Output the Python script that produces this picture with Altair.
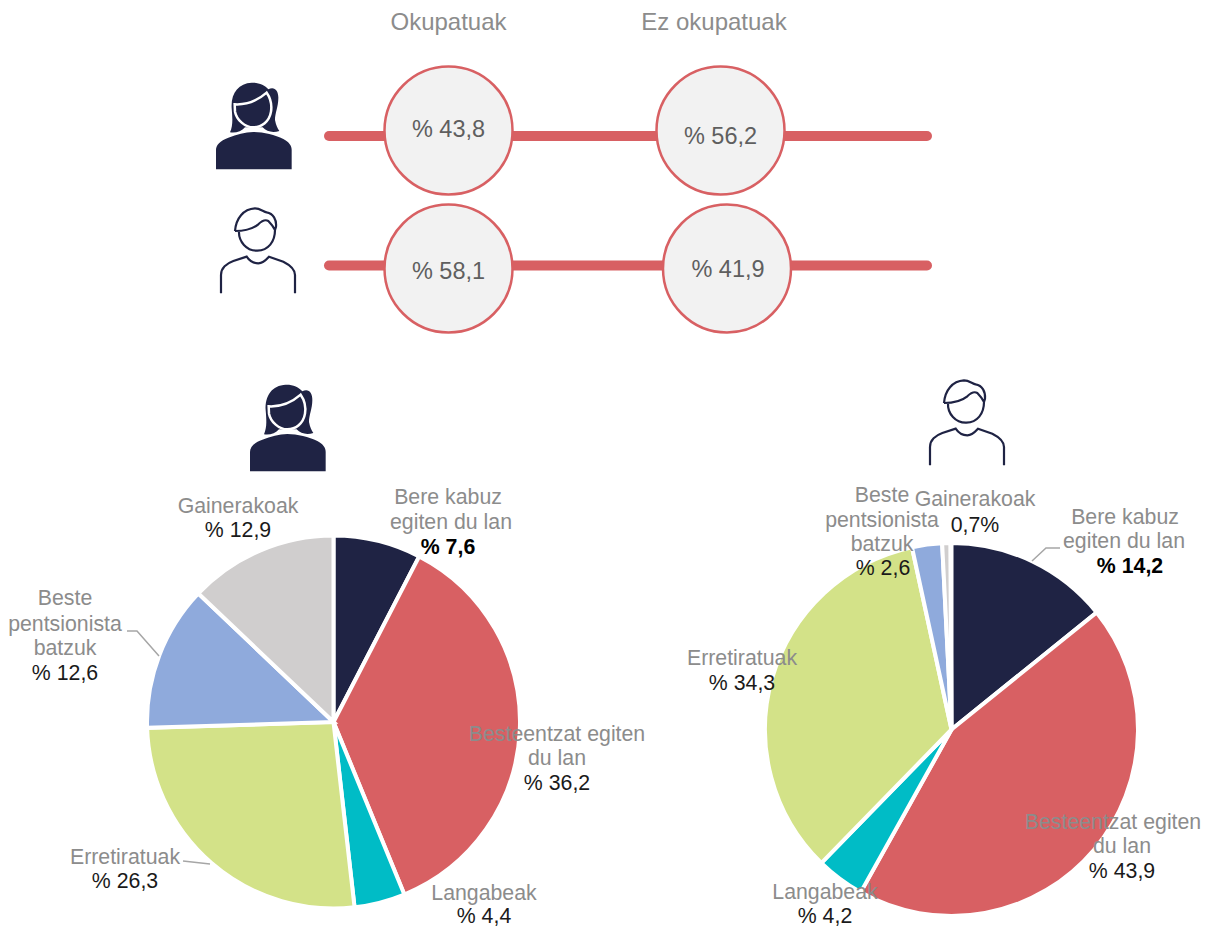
import re
import altair as alt
import pandas as pd

FONT = "Liberation Sans"
NAVY, RED, TEAL, GREEN, BLUE, GREY = "#1F2344", "#D86063", "#00BCC6", "#D3E288", "#8FAADC", "#D0CECE"

pie_names = ["Bere kabuz", "Besteentzat", "Langabeak", "Erretiratuak", "Beste", "Gainerakoak"]
pie_colors = [NAVY, RED, TEAL, GREEN, BLUE, GREY]
women_shares = [7.6, 36.2, 4.4, 26.3, 12.6, 12.9]
men_shares = [14.2, 43.9, 4.2, 34.3, 2.6, 0.7]

track_y = [136, 265.5]
track_x = [329, 927]
bubble_x = [448.5, 720.5, 448.5, 727]
bubble_y = [130.5, 130.5, 268.5, 268.5]
bubble_text = ["% 43,8", "% 56,2", "% 58,1", "% 41,9"]
bubble_text_x = [448.5, 720.5, 448.5, 728]
bubble_text_y = [130, 136.5, 271.5, 269.5]

header_text = ["Okupatuak", "Ez okupatuak"]
header_x = [448.5, 714]
header_y = [23, 23]

grey_text = ["Bere kabuz", "egiten du lan", "Gainerakoak", "Beste", "pentsionista", "batzuk",
             "Besteentzat egiten", "du lan", "Erretiratuak", "Langabeak",
             "Bere kabuz", "egiten du lan", "Gainerakoak", "Beste", "pentsionista", "batzuk",
             "Erretiratuak", "Besteentzat egiten", "du lan", "Langabeak"]
grey_x = [448, 451, 238, 65, 65, 65, 557, 557, 125, 484,
          1125, 1124, 975, 882, 882, 882, 742, 1113, 1122, 825]
grey_y = [498, 523, 507, 599, 625, 649, 735, 759, 858, 894,
          518, 542, 500, 496, 521, 545, 659, 823, 847, 893]

value_text = ["% 12,9", "% 12,6", "% 36,2", "% 26,3", "% 4,4", "0,7%", "% 2,6", "% 34,3", "% 43,9", "% 4,2"]
value_x = [238, 65, 557, 125, 484, 975, 883, 742, 1122, 825]
value_y = [531, 674, 784, 882, 917, 526, 569, 684, 872, 917]

bold_text = ["% 7,6", "% 14,2"]
bold_x = [448, 1130]
bold_y = [548, 567]

leader_id = [0, 0, 0, 1, 1, 2, 2, 2]
leader_x = [127, 137, 159, 183, 210, 1032, 1046, 1060]
leader_y = [631, 631, 656, 861, 864, 561, 548, 548]

woman_x = [255, 289]
woman_y = [125, 427]
man_x = [255, 964]
man_y = [250, 422]

WOMAN_BODY = "M48,298 L48,240 C48,225 60,212 85,203 C110,193 135,187 160,186 C190,186 225,195 250,207 C268,216 275,228 275,240 L275,298 Z"
WOMAN_HAIR = "M90,187 C100,165 97,140 95,115 C92,70 115,40 155,38 C175,37 195,45 205,58 C222,48 236,60 235,85 C235,110 225,130 225,150 C228,165 232,175 238,183 C222,188 200,187 188,172 L135,172 C125,185 105,190 90,187 Z"
WOMAN_FACE = "M104,103 C140,105 175,90 200,68 C212,85 216,105 213,125 C208,155 185,172 160,172 C135,172 110,150 105,125 Z"
MAN = ("M105,108 C108,70 130,42 165,40 C180,40 190,50 200,52 C220,55 230,75 228,95 L225,105 "
       "M105,108 C140,108 160,100 175,88 C185,78 195,72 205,78 C215,88 220,95 225,105 "
       "M117,108 C115,140 140,168 172,167 C205,166 225,140 225,105 "
       "M63,295 L63,240 C63,220 80,205 100,198 L140,185 C150,200 165,205 175,205 C190,205 198,195 207,185 L250,200 C270,210 285,225 285,240 L285,295")


def unit(path):
    return re.sub(r"(-?\d+\.?\d*),(-?\d+\.?\d*)",
                  lambda m: f"{(float(m[1]) - 165) / 165:.4f},{(float(m[2]) - 165) / 165:.4f}", path)


X = alt.X("x:Q", axis=None, scale=alt.Scale(domain=[8, 1202], nice=False, zero=False))
Y = alt.Y("y:Q", axis=None, scale=alt.Scale(domain=[930, 8], nice=False, zero=False))
X2 = alt.X2("x2:Q")


def texts(labels, xs, ys, color, weight="normal", size=21.3):
    df = pd.DataFrame({"t": labels, "x": xs, "y": ys})
    return alt.Chart(df).mark_text(font=FONT, fontSize=size, color=color, fontWeight=weight,
                                   align="center", baseline="middle").encode(x=X, y=Y, text="t:N")


def pie(shares, cx, cy):
    df = pd.DataFrame({"name": pie_names, "share": shares, "idx": range(6)})
    return alt.Chart(df).mark_arc(outerRadius=186.5, stroke="white", strokeWidth=4).encode(
        theta=alt.Theta("share:Q", stack=True, scale=alt.Scale(domain=[0, 100])),
        color=alt.Color("name:N", legend=None, scale=alt.Scale(domain=pie_names, range=pie_colors)),
        order=alt.Order("idx:Q"),
        x=alt.value(cx - 8), y=alt.value(cy - 8))


def icon(xs, ys, path, **style):
    df = pd.DataFrame({"x": xs, "y": ys})
    return alt.Chart(df).mark_point(shape=unit(path), size=12100, opacity=1, **style).encode(x=X, y=Y)


tracks = alt.Chart(pd.DataFrame({"x": [track_x[0]] * 2, "x2": [track_x[1]] * 2, "y": track_y})).mark_rule(
    color=RED, strokeWidth=10, strokeCap="round").encode(x=X, x2=X2, y=Y)
bubbles = alt.Chart(pd.DataFrame({"x": bubble_x, "y": bubble_y})).mark_point(
    shape="circle", filled=True, fill="#F2F2F2", stroke=RED, strokeWidth=2.5, size=16384, opacity=1
).encode(x=X, y=Y)
leaders = alt.Chart(pd.DataFrame({"x": leader_x, "y": leader_y, "k": leader_id})).mark_line(
    color="#A6A6A6", strokeWidth=1.5).encode(x=X, y=Y, detail="k:N", order=alt.Order("x:Q"))

chart = alt.layer(
    tracks, bubbles,
    texts(bubble_text, bubble_text_x, bubble_text_y, "#5F5F5F", size=23.5),
    texts(header_text, header_x, header_y, "#8C8C8C", size=24),
    pie(women_shares, 333.5, 722), pie(men_shares, 951.5, 729.5),
    leaders,
    texts(grey_text, grey_x, grey_y, "#8C8C8C"),
    texts(value_text, value_x, value_y, "#1A1A1A"),
    texts(bold_text, bold_x, bold_y, "#000000", weight="bold"),
    icon(woman_x, woman_y, WOMAN_BODY, filled=True, fill=NAVY, strokeWidth=0),
    icon(woman_x, woman_y, WOMAN_HAIR, filled=True, fill=NAVY, strokeWidth=0),
    icon(woman_x, woman_y, WOMAN_FACE, filled=True, fill=NAVY, stroke="white", strokeWidth=2.5),
    icon(man_x, man_y, MAN, filled=False, stroke=NAVY, strokeWidth=2.2),
).properties(width=1194, height=922, padding=0, autosize=alt.AutoSizeParams(type="none")).configure_view(stroke=None)

chart.save("out.html", embed_options={"renderer": "svg", "actions": False})
